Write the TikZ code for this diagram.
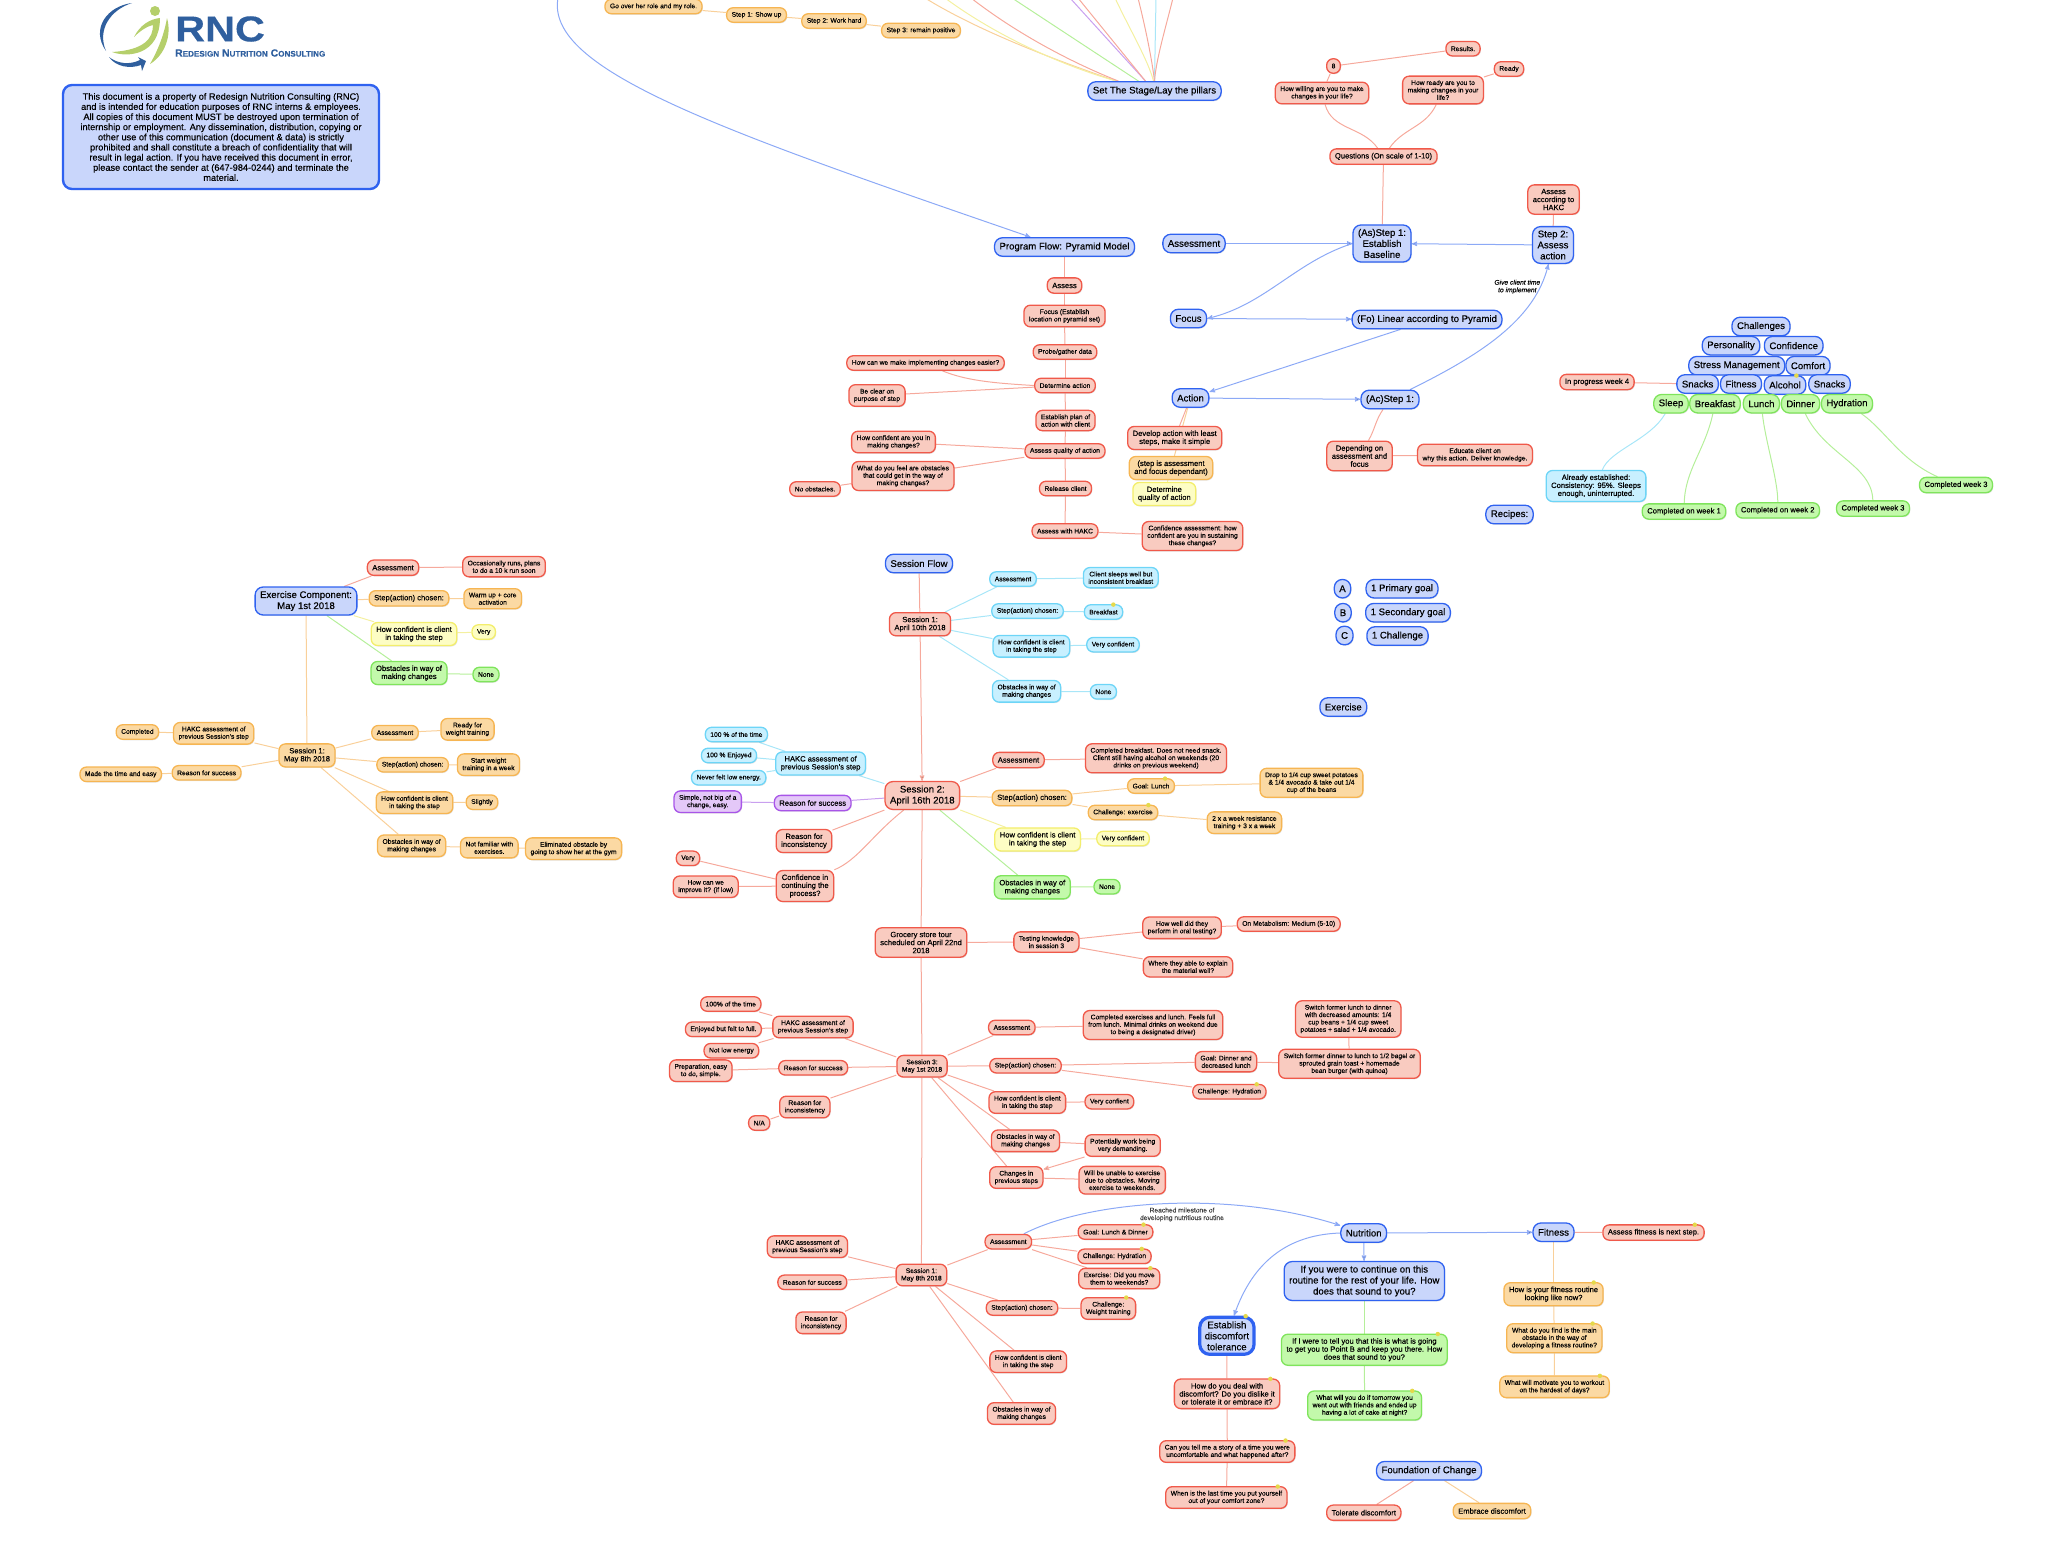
\documentclass[tikz,border=0pt]{standalone}
\usepackage{fontspec}
\setmainfont[FakeBold=0.25]{Liberation Sans}
\usetikzlibrary{arrows,positioning,shadows,backgrounds}

\definecolor{redfill}{HTML}{F9CBC0}
\definecolor{reddraw}{HTML}{F0594A}
\definecolor{rededge}{HTML}{F6A99C}
\definecolor{bluefill}{HTML}{C9D6FB}
\definecolor{bluedraw}{HTML}{2F62F0}
\definecolor{blueedge}{HTML}{8CA9F6}
\definecolor{orangefill}{HTML}{FBD9A3}
\definecolor{orangedraw}{HTML}{F6B552}
\definecolor{orangeedge}{HTML}{F9D09A}
\definecolor{yellowfill}{HTML}{FDFDC4}
\definecolor{yellowdraw}{HTML}{F3EE6C}
\definecolor{yellowedge}{HTML}{F4F0A0}
\definecolor{greenfill}{HTML}{C3F9AB}
\definecolor{greendraw}{HTML}{7FE45C}
\definecolor{greenedge}{HTML}{B5EF9A}
\definecolor{cyanfill}{HTML}{C8F0FF}
\definecolor{cyandraw}{HTML}{6DD5F7}
\definecolor{cyanedge}{HTML}{A8E6F8}
\definecolor{purplefill}{HTML}{E4C8F8}
\definecolor{purpledraw}{HTML}{A855E8}
\definecolor{purpleedge}{HTML}{C9A0EF}
\definecolor{logoblue}{HTML}{2F5F9E}
\definecolor{logogreen}{HTML}{B5CF6B}
\definecolor{notecolor}{HTML}{E5D94B}

\tikzset{
  mmbox/.style={rounded corners=6.5pt,draw,line width=1.3pt,align=center,inner xsep=5pt,inner ysep=4pt,
    text=black,drop shadow={opacity=.22,shadow xshift=.8pt,shadow yshift=-1pt}},
  txs/.style={font=\fontsize{6.7}{7.4}\selectfont,minimum height=14.5pt},
  txm/.style={font=\fontsize{7.6}{8}\selectfont,minimum height=15.3pt},
  txl/.style={font=\fontsize{9.6}{11}\selectfont,minimum height=18.5pt,rounded corners=8pt},
  rbox/.style={mmbox,draw=reddraw,fill=redfill},
  bbox/.style={mmbox,draw=bluedraw,fill=bluefill},
  obox/.style={mmbox,draw=orangedraw,fill=orangefill},
  ybox/.style={mmbox,draw=yellowdraw,fill=yellowfill},
  gbox/.style={mmbox,draw=greendraw,fill=greenfill},
  cbox/.style={mmbox,draw=cyandraw,fill=cyanfill},
  pbox/.style={mmbox,draw=purpledraw,fill=purplefill},
  note/.style={label={[notedot,anchor=center,xshift=-10pt,yshift=-.5pt]north east:{}}},
  notedot/.style={circle,fill=notecolor,minimum size=4.5pt,inner sep=0pt},
  rline/.style={draw=rededge,line width=1pt},
  bline/.style={draw=blueedge,line width=1pt},
  oline/.style={draw=orangeedge,line width=1pt},
  yline/.style={draw=yellowedge,line width=1pt},
  gline/.style={draw=greenedge,line width=1pt},
  cline/.style={draw=cyanedge,line width=1pt},
  pline/.style={draw=purpleedge,line width=1pt}
}

\begin{document}
\begin{tikzpicture}[>=stealth',x=1pt,y=-1pt]
\useasboundingbox (0,0) rectangle (2052,1542);

% logo
\fill[logoblue] (132,3) .. controls (108,6) and (90,28) .. (106,51) .. controls (97,30) and (110,10) .. (132,3) -- cycle;
\fill[logoblue] (109,57) .. controls (118,64) and (130,65) .. (140,60) -- (138,57) -- (146,61) -- (142,71) -- (141,65) .. controls (130,69) and (116,67) .. (109,57) -- cycle;
\fill[logogreen] (155,11) circle (5);
\fill[logogreen] (160,18) .. controls (150,19) and (140,25) .. (134,37) .. controls (141,30) and (148,26) .. (153,25) .. controls (153,38) and (145,50) .. (112,52) .. controls (128,58) and (160,55) .. (160,18) -- cycle;
\fill[logogreen] (167,18) .. controls (172,35) and (165,55) .. (150,64) .. controls (158,50) and (164,35) .. (167,18) -- cycle;
\node[text=logoblue,font=\fontsize{36}{36}\bfseries\selectfont,xscale=1.15,anchor=west,inner sep=0pt] (logoname) at (175,29) {RNC};
\node[text=logoblue,font=\fontsize{10.4}{10.4}\bfseries\selectfont,anchor=west,inner sep=0pt] (logosub) at (175,53) {R{\fontsize{8.1}{8.1}\selectfont EDESIGN} N{\fontsize{8.1}{8.1}\selectfont UTRITION} C{\fontsize{8.1}{8.1}\selectfont ONSULTING}};

\node[bbox,line width=2.4pt,rounded corners=9pt,font=\fontsize{9.2}{10.15}\selectfont,minimum width=316pt,minimum height=104pt,inner xsep=3pt] (notice) at (221,137) {This document is a property of Redesign Nutrition Consulting (RNC)\\and is intended for education purposes of RNC interns \& employees.\\All copies of this document MUST be destroyed upon termination of\\internship or employment. Any dissemination, distribution, copying or\\other use of this communication (document \& data) is strictly\\prohibited and shall constitute a breach of confidentiality that will\\result in legal action. If you have received this document in error,\\please contact the sender at (647-984-0244) and terminate the\\material.};

% top of the page
\node[obox,txs] (goover) at (653.5,6.5) {Go over her role and my role.};
\node[obox,txs] (show) at (756.5,15) {Step 1: Show up};
\node[obox,txs] (work) at (834,21) {Step 2: Work hard};
\node[obox,txs] (remain) at (921,30.5) {Step 3: remain positive};
\node[bbox,txl] (stage) at (1154.5,91) {Set The Stage/Lay the pillars};
\coordinate (cut1) at (925,-2);
\coordinate (cut2) at (945,-2);
\coordinate (cut3) at (971,-2);
\coordinate (cut4) at (1012,-2);
\coordinate (cut5) at (1070,-2);
\coordinate (cut6) at (1078,-2);
\coordinate (cut7) at (1115,-2);
\coordinate (cut8) at (1138,-2);
\coordinate (cut9) at (1156,-2);
\coordinate (cut10) at (1173,-2);
\coordinate (cut11) at (558,-2);

% pyramid model
\node[bbox,txl] (flow) at (1064.5,247) {Program Flow: Pyramid Model};
\node[rbox,txm] (assess) at (1064.5,285.5) {Assess};
\node[rbox,txs] (focusest) at (1064.5,316) {Focus (Establish\\location on pyramid set)};
\node[rbox,txs] (probe) at (1065,352) {Probe/gather data};
\node[rbox,txs] (easier) at (925.5,363) {How can we make implementing changes easier?};
\node[rbox,txs] (determine) at (1065,385.5) {Determine action};
\node[rbox,txs] (clear) at (877,395.5) {Be clear on\\purpose of step};
\node[rbox,txs] (plan) at (1065.5,420.5) {Establish plan of\\action with client};
\node[rbox,txs] (confchg) at (893.5,442) {How confident are you in\\making changes?};
\node[rbox,txs] (quality) at (1065,451) {Assess quality of action};
\node[rbox,txs] (feel) at (903,476) {What do you feel are obstacles\\that could get in the way of\\making changes?};
\node[rbox,txs] (noobs) at (815,489) {No obstacles.};
\node[rbox,txs] (release) at (1065.5,488.5) {Release client};
\node[rbox,txs] (hakc) at (1065,531) {Assess with HAKC};
\node[rbox,txs] (sustain) at (1192.5,536) {Confidence assessment: how\\confident are you in sustaining\\these changes?};

% assessment, focus, action
\node[bbox,txl] (assessment) at (1194,243.5) {Assessment};
\node[bbox,txl] (focus) at (1188.5,318.5) {Focus};
\node[bbox,txl] (action) at (1190.5,398) {Action};
\node[rbox,txm] (develop) at (1174.7,438) {Develop action with least\\steps, make it simple};
\node[obox,txm] (dependant) at (1171,468) {(step is assessment\\and focus dependant)};
\node[ybox,txm] (detqual) at (1164.3,494) {Determine\\quality of action};
\node[rbox,txs] (results) at (1463,48.7) {Results.};
\node[rbox,txs] (eight) at (1333.5,66) {8};
\node[rbox,txs] (willing) at (1322,93) {How willing are you to make\\changes in your life?};
\node[rbox,txs] (ready) at (1509,69) {Ready};
\node[rbox,txs] (howready) at (1443,90) {How ready are you to\\making changes in your\\life?};
\node[rbox,txm] (questions) at (1383.5,156.5) {Questions (On scale of 1-10)};
\node[bbox,txl] (asstep) at (1382,243.5) {(As)Step 1:\\Establish\\Baseline};
\node[rbox,txm] (according) at (1553.5,199.5) {Assess\\according to\\HAKC};
\node[bbox,txl] (steptwo) at (1553,245) {Step 2:\\Assess\\action};
\node[font=\fontsize{6.7}{7.6}\itshape\selectfont,align=center,inner sep=0pt] (givetime) at (1517.3,286.7) {Give client time\\to implement};
\node[bbox,txl] (linear) at (1427,319.5) {(Fo) Linear according to Pyramid};
\node[bbox,txl] (acstep) at (1390,399.5) {(Ac)Step 1:};
\node[rbox,txm] (depending) at (1359.5,456) {Depending on\\assessment and\\focus};
\node[rbox,txs] (educate) at (1475,455) {Educate client on\\why this action. Deliver knowledge.};
\node[bbox,txl] (recipes) at (1509.5,514.5) {Recipes:};
\node[bbox,txl] (goala) at (1342.5,588.7) {A};
\node[bbox,txl] (primary) at (1402,588.7) {1 Primary goal};
\node[bbox,txl] (goalb) at (1343,612.7) {B};
\node[bbox,txl] (secondary) at (1408,612.7) {1 Secondary goal};
\node[bbox,txl] (goalc) at (1344.5,635.5) {C};
\node[bbox,txl] (challenge) at (1397.5,636) {1 Challenge};
\node[bbox,txl] (exercise) at (1343.3,707) {Exercise};

% stacked pyramid
\node[bbox,txl] (challenges) at (1761,326.5) {Challenges};
\node[bbox,txl] (personality) at (1731,345.7) {Personality};
\node[bbox,txl] (confidence) at (1793.7,345.7) {Confidence};
\node[bbox,txl] (stress) at (1736.7,365.7) {Stress Management};
\node[bbox,txl] (comfort) at (1808,365.7) {Comfort};
\node[bbox,txl] (snacksa) at (1697.6,384) {Snacks};
\node[bbox,txl] (fitnessb) at (1741,384) {Fitness};
\node[bbox,txl,note] (alcohol) at (1785,385) {Alcohol};
\node[bbox,txl] (snacksb) at (1829.5,384) {Snacks};
\node[gbox,txl] (sleep) at (1671,403.7) {Sleep};
\node[gbox,txl] (breakfast) at (1715,403.7) {Breakfast};
\node[gbox,txl] (lunch) at (1761.4,403.7) {Lunch};
\node[gbox,txl] (dinner) at (1800.5,403.7) {Dinner};
\node[gbox,txl] (hydration) at (1847,403.7) {Hydration};
\node[rbox,txm] (weekfour) at (1597,382) {In progress week 4};
\node[cbox,txm] (already) at (1596,486) {Already established:\\Consistency: 95\%. Sleeps\\enough, uninterrupted.};
\node[gbox,txm] (weekone) at (1684,511.5) {Completed on week 1};
\node[gbox,txm] (weektwo) at (1777.7,510.4) {Completed on week 2};
\node[gbox,txm] (weekthree) at (1873,508.5) {Completed week 3};
\node[gbox,txm] (weekthreeb) at (1956,485) {Completed week 3};

% exercise component
\node[bbox,txl] (excomp) at (306,601) {Exercise Component:\\May 1st 2018};
\node[rbox,txm] (exas) at (393,567.7) {Assessment};
\node[rbox,txs] (exruns) at (504,566.7) {Occasionally runs, plans\\to do a 10 k run soon};
\node[obox,txm] (exst) at (409,598.3) {Step(action) chosen:};
\node[obox,txs] (excore) at (492.7,598.7) {Warm up + core\\activation};
\node[ybox,txm] (exco) at (414,634) {How confident is client\\in taking the step};
\node[ybox,txs] (exvery) at (483.7,632) {Very};
\node[gbox,txm] (exob) at (409,673) {Obstacles in way of\\making changes};
\node[gbox,txs] (exnone) at (486,674.5) {None};
\node[obox,txm] (eb) at (307,755.4) {Session 1:\\May 8th 2018};
\node[obox,txs] (ebdone) at (137.4,732) {Completed};
\node[obox,txs] (ebhk) at (213.7,733.3) {HAKC assessment of\\previous Session's step};
\node[obox,txs] (ebeasy) at (120.7,774.3) {Made the time and easy};
\node[obox,txs] (ebrs) at (206.6,772.8) {Reason for success};
\node[obox,txs] (ebas) at (395,732.7) {Assessment};
\node[obox,txs] (ebready) at (467.5,729.3) {Ready for\\weight training};
\node[obox,txs] (ebst) at (412.6,764.8) {Step(action) chosen:};
\node[obox,txs] (ebstart) at (488.5,764.7) {Start weight\\training in a week};
\node[obox,txs] (ebco) at (414.5,802.7) {How confident is client\\in taking the step};
\node[obox,txs] (ebslight) at (482,802.2) {Slightly};
\node[obox,txs] (ebob) at (411.6,845.8) {Obstacles in way of\\making changes};
\node[obox,txs] (ebfam) at (489.3,847.7) {Not familiar with\\exercises.};
\node[obox,txs] (ebgym) at (573.6,848.7) {Eliminated obstacle by\\going to show her at the gym};

% session flow, session 1
\node[bbox,txl] (sessflow) at (919,563.5) {Session Flow};
\node[rbox,txm] (sa) at (920,624.2) {Session 1:\\April 10th 2018};
\node[cbox,txs] (saas) at (1013,579) {Assessment};
\node[cbox,txs] (sasleep) at (1120.8,577.7) {Client sleeps well but\\inconsistent breakfast};
\node[cbox,txs] (sast) at (1027.5,611) {Step(action) chosen:};
\node[cbox,txs,note] (sabr) at (1103.5,612) {Breakfast};
\node[cbox,txs] (saco) at (1031.4,646.3) {How confident is client\\in taking the step};
\node[cbox,txs] (savc) at (1113,644.7) {Very confident};
\node[cbox,txs] (saob) at (1026.6,691.3) {Obstacles in way of\\making changes};
\node[cbox,txs] (sano) at (1103.4,691.8) {None};

% session 2
\node[rbox,txl] (sb) at (922.3,795.5) {Session 2:\\April 16th 2018};
\node[cbox,txs] (sbtime) at (736.4,734.5) {100 \% of the time};
\node[cbox,txs] (sbenj) at (729,755.5) {100 \% Enjoyed};
\node[cbox,txs] (sblow) at (728.7,777.7) {Never felt low energy.};
\node[cbox,txm] (sbhk) at (820.6,763.5) {HAKC assessment of\\previous Session's step};
\node[pbox,txs] (sbsimple) at (707.7,801.7) {Simple, not big of a\\change, easy.};
\node[pbox,txm] (sbrs) at (812.7,803) {Reason for success};
\node[rbox,txm] (sbri) at (804,841) {Reason for\\inconsistency};
\node[rbox,txs] (sbvery) at (688,858.3) {Very};
\node[rbox,txs] (sbimp) at (705.7,886.7) {How can we\\improve it? (if low)};
\node[rbox,txm] (sbcf) at (805,886) {Confidence in\\continuing the\\process?};
\node[rbox,txm] (sbas) at (1018.5,760) {Assessment};
\node[rbox,txs] (sbcb) at (1156,758.3) {Completed breakfast. Does not need snack.\\Client still having alcohol on weekends (20\\drinks on previous weekend)};
\node[obox,txm] (sbst) at (1032,798) {Step(action) chosen:};
\node[obox,txs,note] (sbgl) at (1151,786) {Goal: Lunch};
\node[obox,txs] (sbdrop) at (1311.5,782.8) {Drop to 1/4 cup sweet potatoes\\\& 1/4 avocado \& take out 1/4\\cup of the beans};
\node[obox,txs,note] (sbch) at (1123,812.5) {Challenge: exercise};
\node[obox,txs] (sbwk) at (1244.4,822.7) {2 x a week resistance\\training + 3 x a week};
\node[ybox,txm] (sbco) at (1037.6,839.5) {How confident is client\\in taking the step};
\node[ybox,txs] (sbvc) at (1123,838.5) {Very confident};
\node[gbox,txm] (sbob) at (1032.3,887.3) {Obstacles in way of\\making changes};
\node[gbox,txs] (sbno) at (1107,886.7) {None};

% grocery tour
\node[rbox,txm] (gr) at (921,942.5) {Grocery store tour\\scheduled on April 22nd\\2018};
\node[rbox,txs] (gt) at (1046.4,942) {Testing knowledge\\in session 3};
\node[rbox,txs] (gthow) at (1182,927.8) {How well did they\\perform in oral testing?};
\node[rbox,txs] (gtmet) at (1288.7,924) {On Metabolism: Medium (5-10)};
\node[rbox,txs] (gtwhere) at (1188,966.8) {Where they able to explain\\the material well?};

% session 3
\node[rbox,txs] (sc) at (922,1066.2) {Session 3:\\May 1st 2018};
\node[rbox,txs] (sctime) at (730.8,1004) {100\% of the time};
\node[rbox,txs] (schk) at (813,1027) {HAKC assessment of\\previous Session's step};
\node[rbox,txs] (scenj) at (723.4,1029.3) {Enjoyed but felt to full.};
\node[rbox,txs] (sclow) at (731.4,1050.7) {Not low energy};
\node[rbox,txs] (scprep) at (700.8,1070.7) {Preparation, easy\\to do, simple.};
\node[rbox,txs] (scrs) at (813.2,1067.8) {Reason for success};
\node[rbox,txs] (scri) at (804.8,1107) {Reason for\\inconsistency};
\node[rbox,txs] (scna) at (759.2,1123) {N/A};
\node[rbox,txs] (scas) at (1011.8,1027.5) {Assessment};
\node[rbox,txs] (sccp) at (1153,1025) {Completed exercises and lunch. Feels full\\from lunch. Minimal drinks on weekend due\\to being a designated driver)};
\node[rbox,txs] (scst) at (1025.5,1065.7) {Step(action) chosen:};
\node[rbox,txs] (scgl) at (1226,1061.7) {Goal: Dinner and\\decreased lunch};
\node[rbox,txs] (scswa) at (1348.2,1019) {Switch former lunch to dinner\\with decreased amounts: 1/4\\cup beans + 1/4 cup sweet\\potatoes + salad + 1/4 avocado.};
\node[rbox,txs] (scswb) at (1349.5,1063.8) {Switch former dinner to lunch to 1/2 bagel or\\sprouted grain toast + homemade\\bean burger (with quinoa)};
\node[rbox,txs,note] (scch) at (1229.4,1091.7) {Challenge: Hydration};
\node[rbox,txs] (scco) at (1027.3,1102.5) {How confident is client\\in taking the step};
\node[rbox,txs] (scvc) at (1109.4,1101.7) {Very confient};
\node[rbox,txs] (scob) at (1025.5,1140.8) {Obstacles in way of\\making changes};
\node[rbox,txs] (scwork) at (1122.7,1145.5) {Potentially work being\\very demanding.};
\node[rbox,txs] (scchg) at (1016.3,1177.5) {Changes in\\previous steps};
\node[rbox,txs] (scwill) at (1122.2,1180.2) {Will be unable to exercise\\due to obstacles. Moving\\exercise to weekends.};

% session of may 8th
\node[rbox,txs] (sd) at (921.4,1275) {Session 1:\\May 8th 2018};
\node[rbox,txs] (sdhk) at (807.4,1246.7) {HAKC assessment of\\previous Session's step};
\node[rbox,txs] (sdrs) at (812.3,1282.3) {Reason for success};
\node[rbox,txs] (sdri) at (821,1322.8) {Reason for\\inconsistency};
\node[rbox,txs] (sdas) at (1008.3,1241.7) {Assessment};
\node[rbox,txs,note] (sdgl) at (1115.5,1232) {Goal: Lunch \& Dinner};
\node[rbox,txs,note] (sdch) at (1114.5,1256.3) {Challenge: Hydration};
\node[rbox,txs,note] (sdex) at (1119.2,1278.5) {Exercise: Did you move\\them to weekends?};
\node[rbox,txs] (sdst) at (1022,1308) {Step(action) chosen:};
\node[rbox,txs,note] (sdwt) at (1108.3,1308.5) {Challenge:\\Weight training};
\node[rbox,txs] (sdco) at (1028.2,1361.7) {How confident is client\\in taking the step};
\node[rbox,txs] (sdob) at (1021.5,1413.5) {Obstacles in way of\\making changes};

% nutrition, fitness, discomfort
\node[bbox,txl] (nutrition) at (1363.7,1233) {Nutrition};
\node[font=\fontsize{6.7}{7.6}\selectfont,text=black!75,align=center,inner sep=0pt] (milestone) at (1182,1214.5) {Reached milestone of\\developing nutritious routine};
\node[bbox,txl] (fitness) at (1553.5,1232.2) {Fitness};
\node[rbox,txm,note] (nextstep) at (1653.5,1232.5) {Assess fitness is next step.};
\node[bbox,txl] (routine) at (1364.3,1281) {If you were to continue on this\\routine for the rest of your life. How\\does that sound to you?};
\node[gbox,txm,note] (pointb) at (1364.3,1349.7) {If I were to tell you that this is what is going\\to get you to Point B and keep you there. How\\does that sound to you?};
\node[gbox,txs,note] (cake) at (1364.6,1405.5) {What will you do if tomorrow you\\went out with friends and ended up\\having a lot of cake at night?};
\node[obox,txm,note] (fitnow) at (1553.5,1294.2) {How is your fitness routine\\looking like now?};
\node[obox,txs,note] (fitobs) at (1554.3,1338.2) {What do you find is the main\\obstacle in the way of\\developing a fitness routine?};
\node[obox,txs,note] (fitmot) at (1554.5,1386.8) {What will motivate you to workout\\on the hardest of days?};
\node[bbox,txl,line width=3.2pt,rounded corners=10pt,note] (tolerance) at (1226.9,1335.8) {Establish\\discomfort\\tolerance};
\node[rbox,txm,note] (deal) at (1227,1393.8) {How do you deal with\\discomfort? Do you dislike it\\or tolerate it or embrace it?};
\node[rbox,txs,note] (story) at (1227.3,1451.5) {Can you tell me a story of a time you were\\uncomfortable and what happened after?};
\node[rbox,txs,note] (lasttime) at (1226.4,1497.5) {When is the last time you put yourself\\out of your comfort zone?};
\node[bbox,txl] (foundation) at (1429,1470.7) {Foundation of Change};
\node[rbox,txm] (tolerate) at (1363.8,1512.7) {Tolerate discomfort};
\node[obox,txm] (embrace) at (1492,1511) {Embrace discomfort};

\begin{scope}[on background layer]
\path[oline] (goover) edge (show) (show) edge (work) (work) edge (remain);
\draw[oline] (cut1) .. controls (985,35) and (1070,65) .. ([xshift=-38pt]stage.north);
\draw[yline] (cut2) .. controls (995,35) and (1060,65) .. ([xshift=-38pt]stage.north);
\draw[rline] (cut3) .. controls (1025,40) and (1085,68) .. ([xshift=-36pt]stage.north);
\draw[gline] (cut4) -- ([xshift=-16pt]stage.north);
\draw[pline] (cut5) -- ([xshift=-9pt]stage.north);
\draw[rline] (cut6) -- ([xshift=-9pt]stage.north);
\draw[yline] (cut7) .. controls (1130,30) and (1148,60) .. ([xshift=-1pt]stage.north);
\draw[rline] (cut8) .. controls (1146,30) and (1152,60) .. (stage.north);
\draw[cline] (cut9) -- (stage.north);
\draw[rline] (cut10) .. controls (1165,30) and (1156,60) .. (stage.north);
\draw[bline,->] (cut11) .. controls (545,70) and (720,130) .. ([xshift=-34pt]flow.north);

\path[rline] (flow) edge (assess) (assess) edge (focusest) (focusest) edge (probe) (probe) edge (determine)
  (determine) edge (plan) (plan) edge (quality) (quality) edge (release) (release) edge (hakc)
  (determine) edge (clear) (quality) edge (confchg) (quality) edge (feel) (feel) edge (noobs) (hakc) edge (sustain);
\draw[rline] (determine.west) .. controls (990,383) and (965,380) .. ([xshift=17pt]easier.south);

\path[bline,->] (assessment) edge (asstep) (steptwo) edge (asstep) (focus) edge (linear) (action) edge (acstep);
\draw[bline,->] ([xshift=49pt]linear.south west) -- (action);
\draw[bline,->] (asstep.west) .. controls (1295,262) and (1265,305) .. (focus.east);
\draw[bline,->] (acstep) .. controls (1480,355) and (1535,320) .. (steptwo);
\path[rline] (questions) edge (asstep) (steptwo) edge (according)
  (willing) edge[out=-75,in=125] (questions) (howready) edge[out=-115,in=55] (questions)
  (willing) edge (eight) (eight) edge (results) (howready) edge (ready)
  (action) edge (develop) (acstep) edge[out=-125,in=60] (depending) (depending) edge (educate);
\path[oline] (action) edge (dependant);
\path[yline] (dependant) edge (detqual);

\path[rline] (weekfour) edge (snacksa);
\draw[cline] (sleep) .. controls (1650,440) and (1610,450) .. (already);
\draw[gline] (breakfast) .. controls (1705,450) and (1685,470) .. (weekone);
\draw[gline] (lunch) .. controls (1765,440) and (1778,480) .. (weektwo);
\draw[gline] (dinner) .. controls (1825,455) and (1872,465) .. (weekthree);
\draw[gline] (hydration) .. controls (1885,430) and (1900,460) .. (weekthreeb);

\path[oline] (excomp) edge (eb) (excomp) edge (exst) (exst) edge (excore) (ebhk) edge (ebdone) (eb) edge (ebhk)
  (eb) edge (ebrs) (ebrs) edge (ebeasy) (eb) edge (ebas) (ebas) edge (ebready) (eb) edge (ebst) (ebst) edge (ebstart)
  (eb) edge (ebco) (ebco) edge (ebslight) (eb) edge (ebob) (ebob) edge (ebfam) (ebfam) edge (ebgym);
\path[rline] (excomp) edge (exas) (exas) edge (exruns);
\path[yline] (excomp) edge (exco) (exco) edge (exvery);
\path[gline] (excomp) edge (exob) (exob) edge (exnone);

\path[rline] (sessflow) edge (sa) (sb) edge (gr) (gr) edge (sc) (sc) edge (sd);
\path[rline,->] (sa) edge (sb);
\path[cline] (sa) edge (saas) (saas) edge (sasleep) (sa) edge (sast) (sast) edge (sabr) (sa) edge (saco)
  (saco) edge (savc) (sa) edge (saob) (saob) edge (sano);
\path[cline] (sb) edge (sbhk) (sbhk) edge (sbtime) (sbhk) edge (sbenj) (sbhk) edge (sblow);
\path[pline] (sb) edge (sbrs) (sbrs) edge (sbsimple);
\path[rline] (sb) edge (sbri) (sbcf) edge (sbvery) (sbcf) edge (sbimp)
  (sb) edge (sbas) (sbas) edge (sbcb);
\draw[rline] (sb) .. controls (872,835) and (858,860) .. (sbcf.north east);
\path[oline] (sb) edge (sbst) (sbst) edge (sbgl) (sbgl) edge (sbdrop) (sbst) edge (sbch) (sbch) edge (sbwk);
\path[yline] (sb) edge (sbco) (sbco) edge (sbvc);
\path[gline] (sb) edge (sbob) (sbob) edge (sbno);

\path[rline] (gr) edge (gt) (gt) edge (gthow) (gthow) edge (gtmet) (gt) edge (gtwhere);

\path[rline] (sc) edge (schk) (schk) edge (sctime) (schk) edge (scenj) (schk) edge (sclow)
  (sc) edge (scrs) (scrs) edge (scprep) (sc) edge (scri) (scri) edge (scna)
  (sc) edge (scas) (scas) edge (sccp) (sc) edge (scst) (scst) edge (scgl) (scgl) edge (scswb) (scswb) edge (scswa)
  (scst) edge (scch) (sc) edge (scco) (scco) edge (scvc) (sc) edge (scob) (scob) edge (scwork)
  (sc) edge (scchg) (scchg) edge (scwill);
\path[rline,->] (scwork) edge (scchg);

\path[rline] (sd) edge (sdhk) (sd) edge (sdrs) (sd) edge (sdri) (sd) edge (sdas) (sdas) edge (sdgl)
  (sdas) edge (sdch) (sdas) edge (sdex) (sd) edge (sdst) (sdst) edge (sdwt) (sd) edge (sdco) (sd) edge (sdob);
\draw[bline,->] (sdas) .. controls (1090,1200) and (1230,1190) .. (nutrition);
\path[bline,->] (nutrition) edge (routine) (nutrition) edge (fitness);
\draw[bline,->] (nutrition.west) .. controls (1280,1235) and (1250,1270) .. (tolerance);
\path[gline] (routine) edge (pointb) (pointb) edge (cake);
\path[rline] (fitness) edge (nextstep) (tolerance) edge (deal) (deal) edge (story) (story) edge (lasttime)
  (foundation) edge (tolerate);
\path[oline] (fitness) edge (fitnow) (fitnow) edge (fitobs) (fitobs) edge (fitmot) (foundation) edge (embrace);
\end{scope}
\end{tikzpicture}
\end{document}
